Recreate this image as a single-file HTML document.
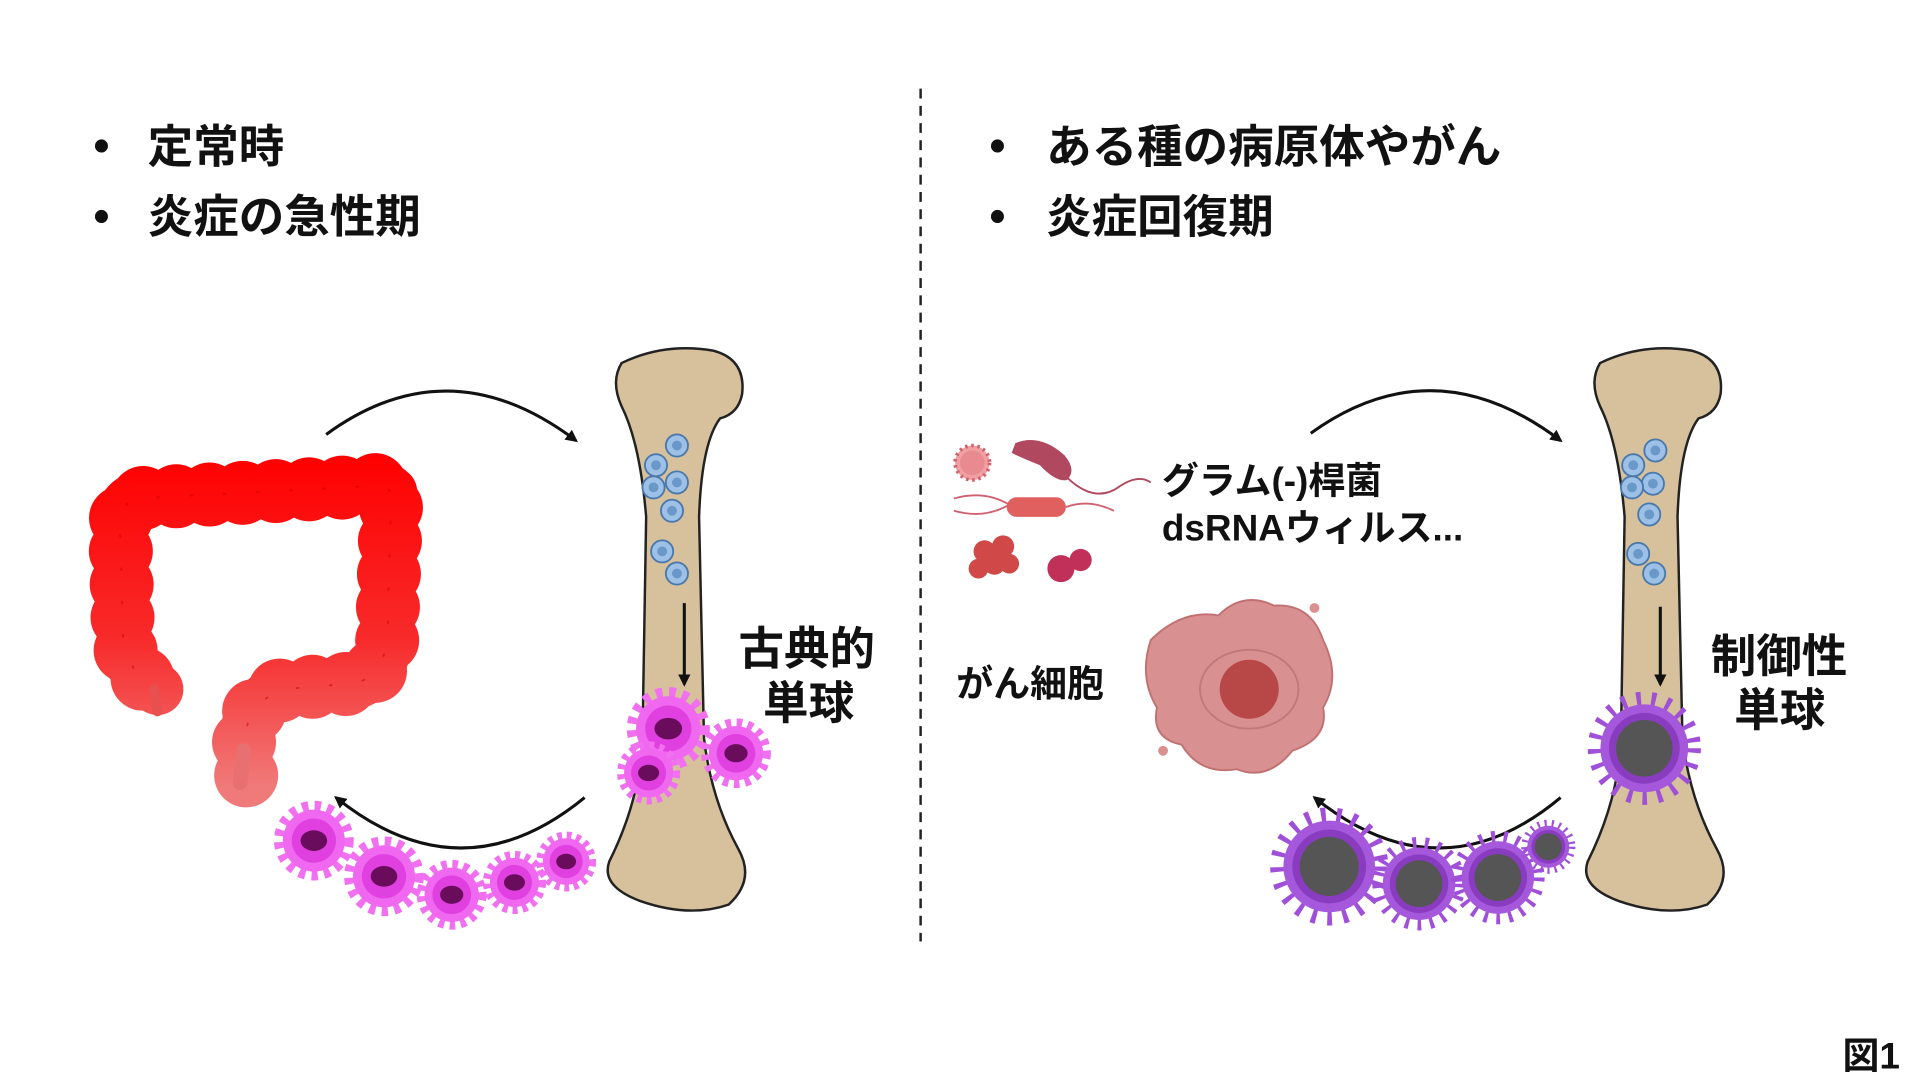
<!DOCTYPE html>
<html><head><meta charset="utf-8">
<style>
html,body{margin:0;padding:0;background:#fff;}
svg{display:block;}
text{font-family:"Liberation Sans","Noto Sans CJK JP",sans-serif;fill:#111;}
</style></head>
<body>
<svg width="1920" height="1080" viewBox="0 0 1560 877.5" preserveAspectRatio="none" xmlns="http://www.w3.org/2000/svg">
<defs>
<marker id="ah" markerWidth="10" markerHeight="10" refX="8" refY="5" orient="auto" markerUnits="userSpaceOnUse">
<path d="M0,0 L10,5 L0,10 Z" fill="#111"/>
</marker>
<linearGradient id="red" gradientUnits="userSpaceOnUse" x1="0" y1="370" x2="0" y2="640">
<stop offset="0" stop-color="#ff0000"/><stop offset="0.55" stop-color="#f82a2a"/><stop offset="1" stop-color="#f07a7a"/>
</linearGradient>
<g id="mag">
<circle r="22" fill="none" stroke="#f070f0" stroke-width="10" stroke-dasharray="4 4"/>
<circle r="21" fill="#f068f0"/>
<circle r="15" fill="#e040e0"/>
<ellipse rx="9" ry="7" fill="#6a0c5c"/>
</g>
<g id="pur">
<circle r="33" fill="none" stroke="#a050d8" stroke-width="14" stroke-dasharray="3 7"/>
<circle r="31" fill="#a558dc"/>
<circle r="25" fill="#8a3cc0"/>
<circle r="20" fill="#555"/>
</g>
<g id="blue">
<circle r="9" fill="#9dc0e6" stroke="#4a78ac" stroke-width="1.5"/>
<circle r="4" fill="#6a98c8"/>
</g>
<path id="bone" d="M505,295 Q540,278 580,285 Q606,292 603,320 Q600,336 585,340 Q570,360 568,420 L572,600 Q578,650 600,690 Q614,715 592,735 Q560,746 520,732 Q488,720 495,700 Q520,650 522,600 L525,420 Q520,360 505,330 Q496,310 505,295 Z" fill="#d6c19c" stroke="#222" stroke-width="2"/>
<path id="colon" d="M200,630 Q190,575 230,560 L290,555 Q318,545 315,500 L318,400 Q310,392 300,395 L110,405 Q95,410 98,440 L100,520 Q105,548 128,560"/>
</defs>

<line x1="748" y1="72" x2="748" y2="765" stroke="#222" stroke-width="2" stroke-dasharray="8 6"/>

<g font-size="37" font-weight="bold">
<text x="76" y="131">•</text><text x="120" y="132">定常時</text>
<text x="76" y="188">•</text><text x="120" y="189">炎症の急性期</text>
<text x="804" y="131">•</text><text x="850" y="132">ある種の病原体やがん</text>
<text x="804" y="188">•</text><text x="850" y="189">炎症回復期</text>
</g>

<!-- colon -->
<g fill="none" stroke-linejoin="round">
<use href="#colon" stroke="url(#red)" stroke-width="42" stroke-linecap="round"/>
<use href="#colon" stroke="url(#red)" stroke-width="52" stroke-linecap="round" stroke-dasharray="0 27"/>
<use href="#colon" stroke="#c80000" stroke-width="1.5" stroke-dasharray="1.5 25.5" stroke-dashoffset="13" opacity="0.5" stroke-linecap="round"/>
<path d="M125,560 L128,578" stroke="#e85050" stroke-width="8" stroke-linecap="round"/>
<path d="M198,610 L195,636" stroke="#e87070" stroke-width="12" stroke-linecap="round"/>
</g>

<use href="#bone"/>
<use href="#blue" x="550" y="362"/><use href="#blue" x="533" y="378"/><use href="#blue" x="550" y="392"/>
<use href="#blue" x="531" y="396"/><use href="#blue" x="546" y="415"/><use href="#blue" x="538" y="448"/><use href="#blue" x="550" y="466"/>
<line x1="556" y1="490" x2="556" y2="556" stroke="#111" stroke-width="2.5" marker-end="url(#ah)"/>

<path d="M265,353 Q365,280 468,358" fill="none" stroke="#111" stroke-width="2.5" marker-end="url(#ah)"/>
<path d="M475,648 Q375,730 273,648" fill="none" stroke="#111" stroke-width="2.5" marker-end="url(#ah)"/>

<use href="#mag" transform="translate(543,592) scale(1.25)"/>
<use href="#mag" transform="translate(598,612) scale(1.05)"/>
<use href="#mag" transform="translate(527,628) scale(0.95)"/>
<use href="#mag" transform="translate(255,683) scale(1.2)"/>
<use href="#mag" transform="translate(312,712) scale(1.2)"/>
<use href="#mag" transform="translate(367,727) scale(1.05)"/>
<use href="#mag" transform="translate(418,717) scale(0.95)"/>
<use href="#mag" transform="translate(460,700) scale(0.9)"/>

<text x="600" y="540" font-size="37" font-weight="bold">古典的</text>
<text x="620" y="584" font-size="37" font-weight="bold">単球</text>

<use href="#bone" x="795"/>
<use href="#blue" x="1345" y="366"/><use href="#blue" x="1327" y="378"/><use href="#blue" x="1343" y="393"/>
<use href="#blue" x="1326" y="396"/><use href="#blue" x="1340" y="418"/><use href="#blue" x="1331" y="450"/><use href="#blue" x="1344" y="466"/>
<line x1="1349" y1="493" x2="1349" y2="556" stroke="#111" stroke-width="2.5" marker-end="url(#ah)"/>

<path d="M1065,352 Q1165,280 1268,358" fill="none" stroke="#111" stroke-width="2.5" marker-end="url(#ah)"/>
<path d="M1268,648 Q1170,730 1068,648" fill="none" stroke="#111" stroke-width="2.5" marker-end="url(#ah)"/>

<use href="#pur" transform="translate(1336,608) scale(1.15)"/>
<use href="#pur" transform="translate(1080,704) scale(1.2)"/>
<use href="#pur" transform="translate(1153,718) scale(0.95)"/>
<use href="#pur" transform="translate(1217,713) scale(0.95)"/>
<use href="#pur" transform="translate(1258,688) scale(0.55)"/>

<text x="1390" y="546" font-size="37" font-weight="bold">制御性</text>
<text x="1409" y="590" font-size="37" font-weight="bold">単球</text>

<circle cx="790" cy="376" r="14" fill="#f0a0a0" stroke="#d06070" stroke-width="3" stroke-dasharray="2 3"/>
<circle cx="790" cy="376" r="10" fill="#e88a90"/>
<path d="M825,360 Q845,352 865,370 Q875,382 867,390 Q858,392 845,378 Q830,372 822,368 Z" fill="#b04860"/>
<path d="M867,388 Q890,410 910,395 Q925,385 935,392" fill="none" stroke="#b04860" stroke-width="1.5"/>
<path d="M775,405 Q800,398 820,410 M775,415 Q800,422 820,410" fill="none" stroke="#d06070" stroke-width="1.5"/>
<rect x="818" y="404" width="48" height="16" rx="8" fill="#e06060"/>
<path d="M866,412 Q885,405 905,415" fill="none" stroke="#d06070" stroke-width="1.5"/>
<g fill="#d04848"><circle cx="800" cy="448" r="9"/><circle cx="815" cy="444" r="9"/><circle cx="808" cy="458" r="9"/><circle cx="795" cy="462" r="8"/><circle cx="820" cy="458" r="8"/></g>
<circle cx="862" cy="462" r="11" fill="#c03058"/><circle cx="878" cy="455" r="9" fill="#c03058"/>

<text x="944" y="401" font-size="30" font-weight="bold">グラム(-)桿菌</text>
<text x="944" y="439" font-size="30" font-weight="bold">dsRNAウィルス...</text>
<text x="777" y="566" font-size="30" font-weight="bold">がん細胞</text>

<path d="M935,520 Q960,495 990,500 Q1010,480 1035,492 Q1065,490 1075,520 Q1090,550 1075,575 Q1080,600 1050,610 Q1030,635 1005,625 Q975,630 960,605 Q935,600 940,575 Q925,550 935,520 Z" fill="#d89090" stroke="#c07070" stroke-width="1.5"/>
<ellipse cx="1015" cy="560" rx="40" ry="32" fill="none" stroke="#c07878" stroke-width="1.5"/>
<ellipse cx="1015" cy="560" rx="24" ry="24" fill="#b84848"/>
<circle cx="945" cy="610" r="4" fill="#d89090"/>
<circle cx="1068" cy="494" r="4" fill="#d89090"/>

<text x="1497" y="868" font-size="30" font-weight="bold">図1</text>
</svg>
</body></html>
